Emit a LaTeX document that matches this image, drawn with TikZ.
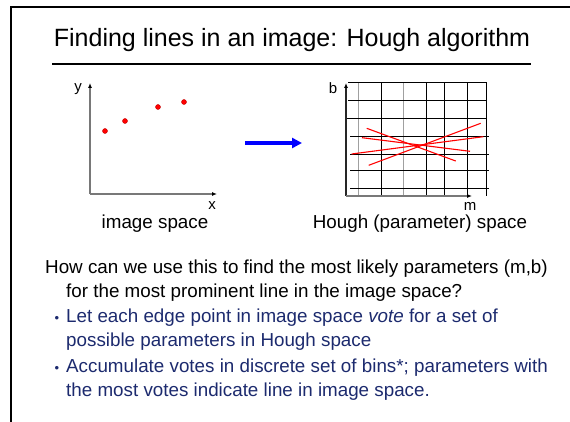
\documentclass[tikz,border=0pt]{standalone}
\usepackage{fontspec}
\setmainfont{Liberation Sans}
\usetikzlibrary{arrows.meta}
\definecolor{bulletnavy}{RGB}{28,42,110}
\definecolor{gridgray}{RGB}{160,160,160}
\definecolor{axisgray}{RGB}{120,120,120}

\begin{document}
\begin{tikzpicture}[x=1pt, y=-1pt,
    title/.style={font=\fontsize{25}{30}\selectfont, anchor=base, inner sep=0pt},
    body/.style={font=\fontsize{18.8}{24}\selectfont, anchor=base west, inner sep=0pt},
    navy/.style={body, text=bulletnavy},
    dot/.style={font=\fontsize{13}{16}\selectfont, text=bulletnavy, anchor=base, inner sep=0pt},
    caption/.style={font=\fontsize{18.8}{24}\selectfont, anchor=base, inner sep=0pt},
    axislabel/.style={font=\fontsize{15}{17}\selectfont, inner sep=0pt},
    axis/.style={line width=1.2pt, axisgray, -{Latex[length=5pt,width=4pt,color=black]}},
    pt/.style={circle, fill=red, draw=red!75!black, line width=0.4pt,
        inner sep=0pt, minimum size=5pt},
    gridline/.style={line width=0.7pt},
    vote/.style={red, line width=1.1pt},
    arr/.style={-{Triangle[length=10pt,width=10pt]}, line width=3.5pt, blue}
]
    \useasboundingbox (0,0) rectangle (570,422);

    % ---- Slide frame and title ----
    \draw[line width=2pt] (570,7) -- (11,7) -- (11,423);
    \node[title] (ttl) at (292,47) {Finding lines in an image: Hough algorithm};
    \draw[line width=2pt] (52,64) -- (531,64);

    % ---- Image space (left) ----
    \coordinate (io) at (90,194);
    \coordinate (iy) at (90,83);
    \coordinate (ix) at (217,194);
    \draw[axis] (io) -- (iy);
    \draw[axis] (io) -- (ix);
    \node[axislabel] (ylab) at (78,89) {y};
    \node[axislabel] (xlab) at (212,206) {x};
    \foreach \px/\py [count=\i] in {105/131, 125/121, 158/107, 184/102}
        \node[pt] (p\i) at (\px,\py) {};
    \node[caption] (icap) at (155,228) {image space};

    % ---- Transform arrow ----
    \coordinate (as) at (245,143);
    \coordinate (ae) at (302,143);
    \draw[arr] (as) -- (ae);

    % ---- Hough (parameter) space (right) ----
    % grid columns (gray ones are lighter in the original)
    \foreach \gx/\gc in {358.7/gridgray, 381.7/black, 403.7/gridgray,
                         426.5/black, 444.7/black, 467.3/black, 486.7/black}
        \draw[gridline, \gc] (\gx,82.5) -- (\gx,196);
    % grid rows
    \draw[gridline] (348,82.5) -- (487,82.5);
    \draw[line width=1.2pt] (348,100.7) -- (487,100.7);
    \draw[gridline] (346,118.7) -- (487,118.7);
    \foreach \gy in {136.5, 154.2, 170, 188.2}
        \draw[gridline] (350,\gy) -- (489,\gy);

    \coordinate (ho) at (346,196);
    \coordinate (hb) at (346,83);
    \coordinate (hm) at (472,196);
    \draw[axis, black!85] (ho) -- (hb);
    \draw[axis] (ho) -- (hm);
    \node[axislabel] (blab) at (333,88) {b};
    \node[axislabel] (mlab) at (470,206) {m};

    % one vote line per image point
    \draw[vote] (366.7,128.3) -- (455.7,161);
    \draw[vote] (362,137.7) -- (470,151.3);
    \draw[vote] (351.7,154) -- (483.3,136.7);
    \draw[vote] (368.7,165.3) -- (480.7,123.3);
    \node[caption] (hcap) at (420,228) {Hough (parameter) space};

    % ---- Text ----
    \node[body] (q1) at (45,273) {How can we use this to find the most likely parameters (m,b)};
    \node[body] (q2) at (66,297) {for the most prominent line in the image space?};

    \node[dot] (d1) at (57,322) {\textbullet};
    \node[navy] (b1a) at (66,322) {Let each edge point in image space \textit{vote} for a set of};
    \node[navy] (b1b) at (66,346) {possible parameters in Hough space};

    \node[dot] (d2) at (57,372) {\textbullet};
    \node[navy] (b2a) at (66,372) {Accumulate votes in discrete set of bins*; parameters with};
    \node[navy] (b2b) at (66,396) {the most votes indicate line in image space.};
\end{tikzpicture}
\end{document}
